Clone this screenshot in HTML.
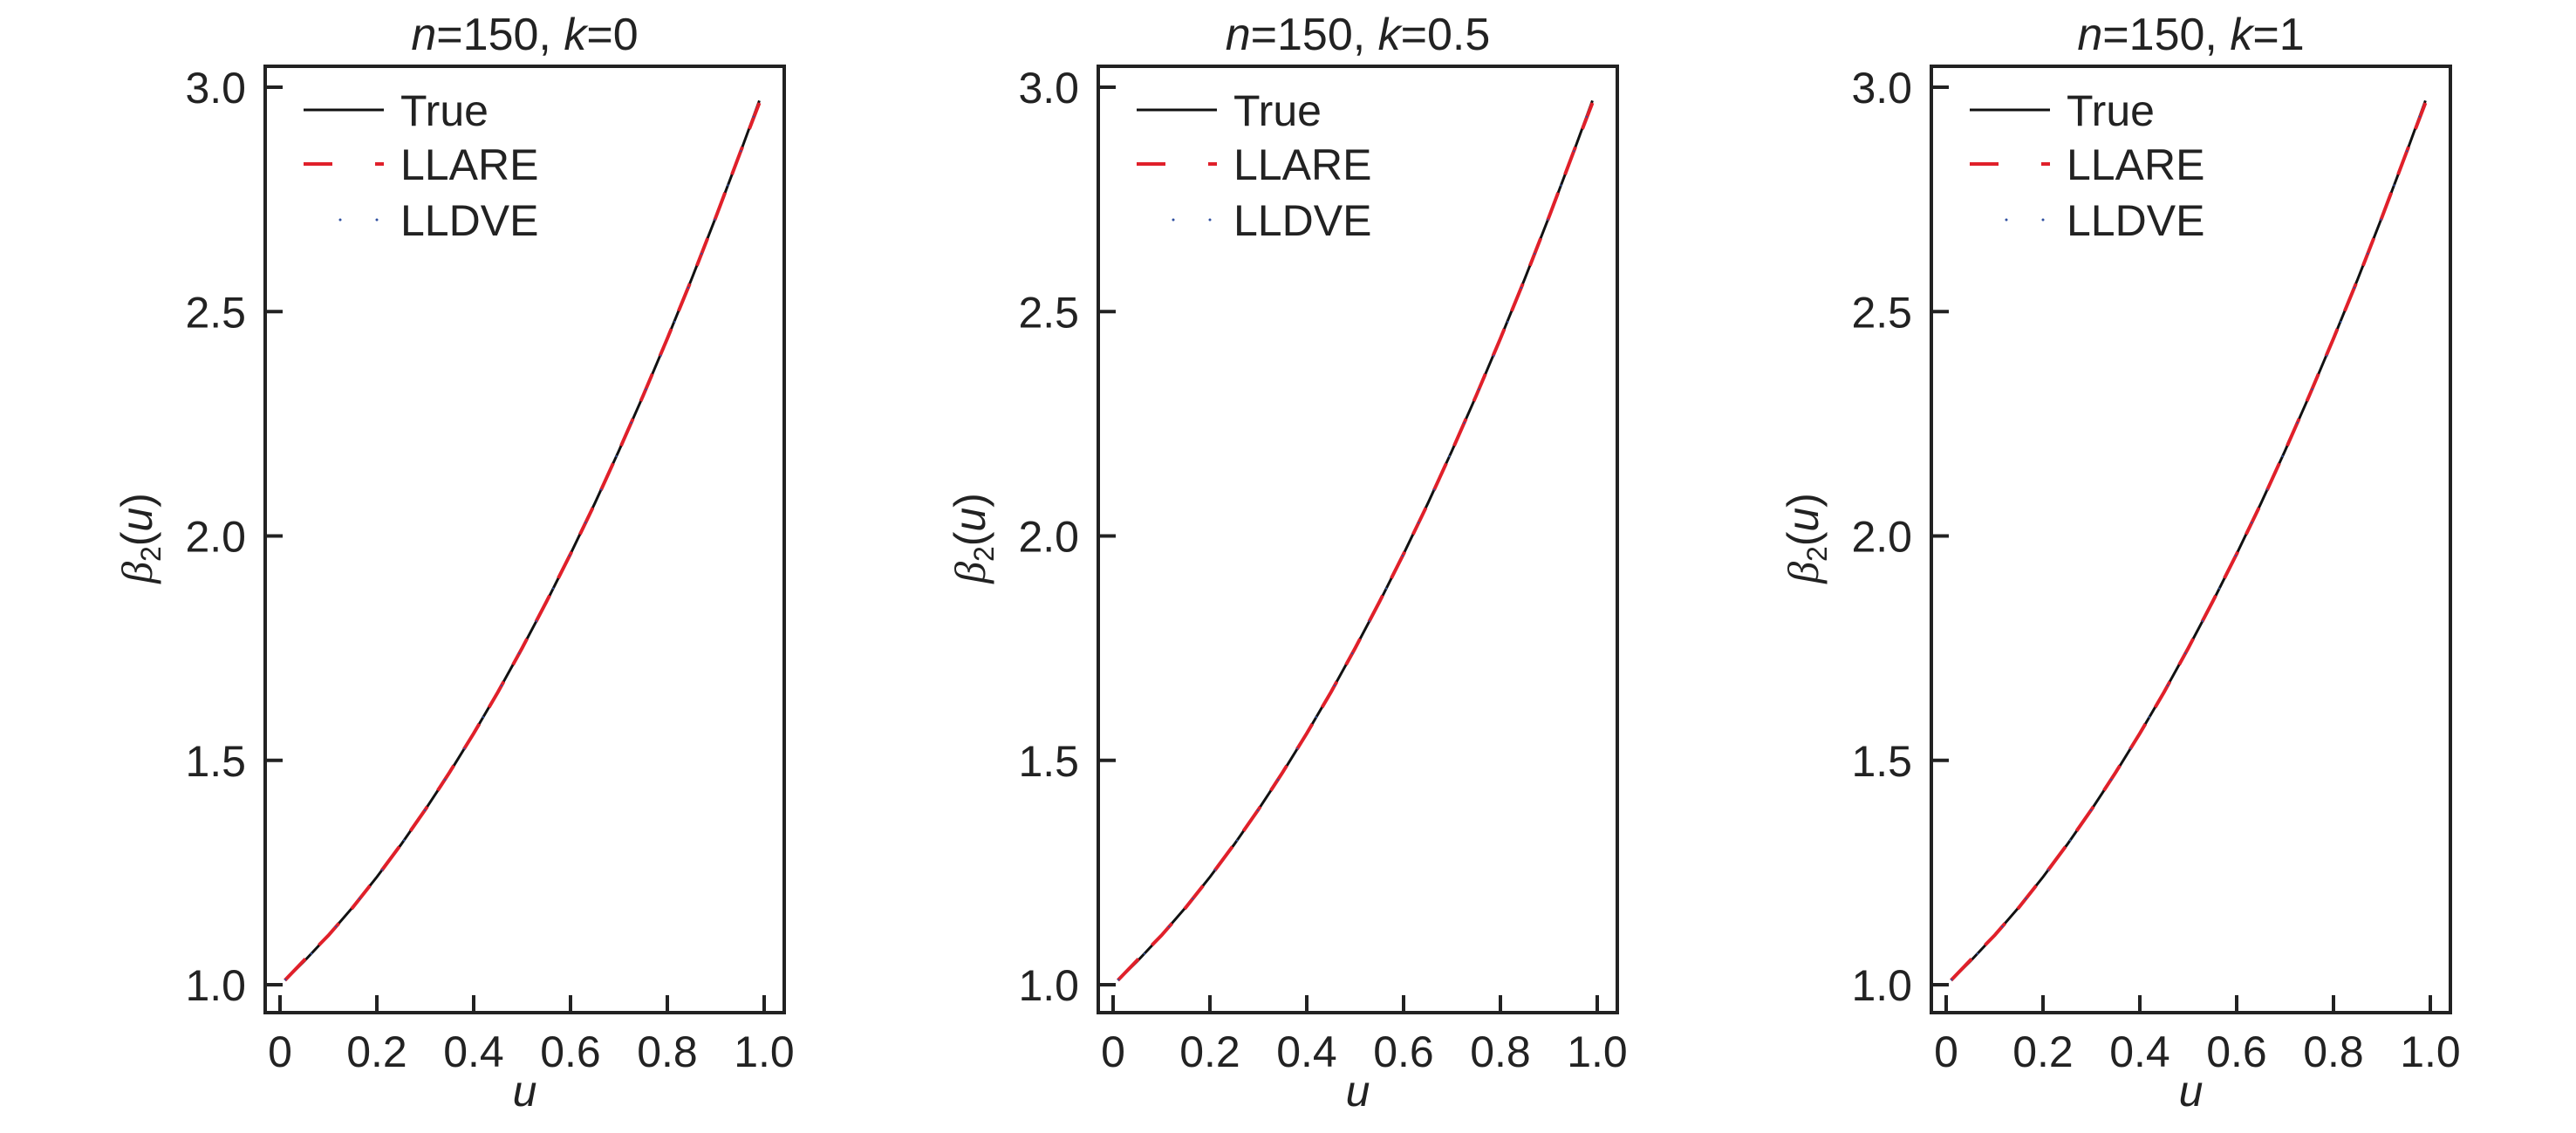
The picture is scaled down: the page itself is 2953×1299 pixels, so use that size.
<!DOCTYPE html>
<html><head><meta charset="utf-8"><style>
body{margin:0;background:#fff}
svg{display:block;font-family:"Liberation Sans",sans-serif}
</style></head><body>
<svg id="chart" width="2953" height="1299" viewBox="0 0 2953 1299"></svg>
<script>
const titles=["n=150, k=0","n=150, k=0.5","n=150, k=1"];
const kValues=["0","0.5","1"];
const uValues=[0.01,0.05,0.1,0.15,0.2,0.25,0.3,0.35,0.4,0.45,0.5,0.55,0.6,0.65,0.7,0.75,0.8,0.85,0.9,0.95,0.99];
const trueValues=[1.01,1.0525,1.11,1.1725,1.24,1.3125,1.39,1.4725,1.56,1.6525,1.75,1.8525,1.96,2.0725,2.19,2.3125,2.44,2.5725,2.71,2.8525,2.97];
const llareValues=[1.01,1.055,1.11,1.172,1.24,1.313,1.39,1.473,1.56,1.652,1.75,1.853,1.96,2.072,2.19,2.313,2.44,2.572,2.71,2.853,2.965];
const lldveValues=[1.01,1.052,1.11,1.172,1.24,1.312,1.39,1.472,1.56,1.652,1.75,1.852,1.96,2.072,2.19,2.312,2.435,2.572,2.71,2.852,2.97];
const xTicks=[0,0.2,0.4,0.6,0.8,1.0];
const xTickLabels=["0","0.2","0.4","0.6","0.8","1.0"];
const yTicks=[1.0,1.5,2.0,2.5,3.0];
const yTickLabels=["1.0","1.5","2.0","2.5","3.0"];
const NS="http://www.w3.org/2000/svg";
const svg=document.getElementById('chart');
function mk(tag,attrs,parent){const e=document.createElementNS(NS,tag);for(const k in attrs)e.setAttribute(k,attrs[k]);(parent||svg).appendChild(e);return e;}
const panelLefts=[304,1259,2214];
const W=595,plotTop=76,plotBottom=1161;
panelLefts.forEach((L,pi)=>{
  const g=mk('g',{});
  
  
  const xs=u=>L+17+u*(W-34-6);
  const ys=v=>1129-(v-1)*514.5;
  const box=mk('rect',{x:L,y:plotTop,width:W,height:plotBottom-plotTop,fill:'none',stroke:'#222','stroke-width':4},g);
  
  
  xTicks.forEach((t,i)=>{
    const x=xs(t);
    const tk=mk('line',{x1:x,x2:x,y1:plotBottom,y2:plotBottom-20,stroke:'#222','stroke-width':4},g);
    
    
    const tl=mk('text',{x:x,y:1223,'font-size':50,'text-anchor':'middle',fill:'#222'},g);
    tl.textContent=xTickLabels[i];
    
    
  });
  yTicks.forEach((t,i)=>{
    const y=ys(t);
    const tk=mk('line',{x1:L,x2:L+20,y1:y,y2:y,stroke:'#222','stroke-width':4},g);
    
    
    const tl=mk('text',{x:L-22,y:y+18,'font-size':50,'text-anchor':'end',fill:'#222'},g);
    tl.textContent=yTickLabels[i];
    
    
  });
  const tt=mk('text',{x:L+W/2,y:57,'font-size':52,'text-anchor':'middle',fill:'#222'},g);
  tt.innerHTML='<tspan font-style="italic">n</tspan>=150, <tspan font-style="italic">k</tspan>='+kValues[pi];
  
  
  const xl=mk('text',{x:L+W/2,y:1268,'font-size':50,'font-style':'italic','text-anchor':'middle',fill:'#222'},g);
  xl.textContent='u';
  
  
  const yl=mk('text',{x:0,y:0,'font-size':50,'text-anchor':'middle',fill:'#222',transform:`translate(${L-130},617) rotate(-90)`},g);
  yl.innerHTML='<tspan font-family="Liberation Serif" font-style="italic">β</tspan><tspan font-size="32" dy="10">2</tspan><tspan dy="-10">(</tspan><tspan font-style="italic">u</tspan>)';
  
  
  const path=vals=>vals.map((v,i)=>(i?'L':'M')+xs(uValues[i]).toFixed(1)+','+ys(v).toFixed(1)).join(' ');
  const s1=mk('path',{d:path(trueValues),fill:'none',stroke:'#111','stroke-width':3},g);
  
  
  const s2=mk('path',{d:path(llareValues),fill:'none',stroke:'#e0202a','stroke-width':4,'stroke-dasharray':'34 22'},g);
  
  
  const s3=mk('path',{d:path(lldveValues),fill:'none',stroke:'#3050a0','stroke-width':2,'stroke-dasharray':'2 40'},g);
  
  
  const lg=mk('g',{},g);
  
  
  const lx=L+44;
  const l1=mk('line',{x1:lx,x2:lx+92,y1:126,y2:126,stroke:'#111','stroke-width':3},lg);
  
  
  const l2a=mk('line',{x1:lx,x2:lx+33,y1:188,y2:188,stroke:'#e0202a','stroke-width':4},lg);
  
  
  const l2b=mk('line',{x1:lx+82,x2:lx+92,y1:188,y2:188,stroke:'#e0202a','stroke-width':4},lg);
  
  
  [lx+42,lx+84].forEach(px=>{
    const d=mk('circle',{cx:px,cy:252,r:1.5,fill:'#3050a0'},lg);
    
    
  });
  ["True","LLARE","LLDVE"].forEach((t,i)=>{
    const e=mk('text',{x:lx+111,y:[144,206,270][i],'font-size':50,fill:'#222'},lg);
    e.textContent=t;
    
    
  });
});
</script>
</body></html>
